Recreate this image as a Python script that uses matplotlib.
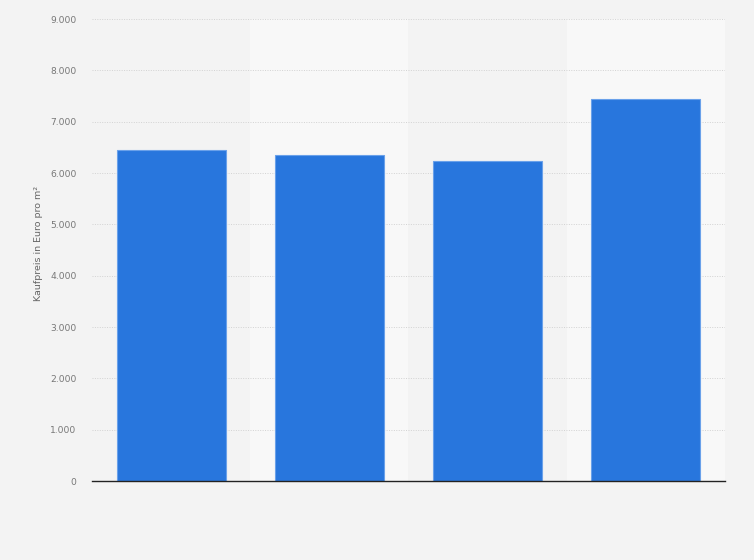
import matplotlib
matplotlib.use("Agg")
import matplotlib.pyplot as plt

# Data (x labels are not shown in the reference)
categories = ["A", "B", "C", "D"]
prices = [6443, 6345, 6228, 7442]
y_ticks = [0, 1000, 2000, 3000, 4000, 5000, 6000, 7000, 8000, 9000]
y_tick_labels = ["0", "1.000", "2.000", "3.000", "4.000", "5.000",
                 "6.000", "7.000", "8.000", "9.000"]

bg = "#f3f3f3"
band_light = "#f8f8f8"
bar_color = "#2876dd"

fig = plt.figure(figsize=(7.54, 5.60), dpi=100, facecolor=bg)
ax = fig.add_axes([0.122, 0.141, 0.8395, 0.825])
ax.set_facecolor(bg)

x = list(range(len(categories)))

# alternating column bands
for i in x:
    if i % 2 == 1:
        ax.axvspan(i - 0.5, i + 0.5, color=band_light, zorder=0, lw=0)

ax.bar(x, prices, width=0.69, color=bar_color, edgecolor="#6aa1ea",
       linewidth=0.8, zorder=3)

ax.set_xlim(-0.5, len(categories) - 0.5)
ax.set_ylim(0, 9000)
ax.set_yticks(y_ticks)
ax.set_yticklabels(y_tick_labels)
ax.set_xticks([])

ax.grid(axis="y", linestyle=(0, (1, 1.5)), color="#d2d2d2", linewidth=0.7, zorder=1)
ax.tick_params(axis="y", length=0, pad=11, labelsize=6.6, labelcolor="#777777")

for side in ["top", "right", "left"]:
    ax.spines[side].set_visible(False)
ax.spines["bottom"].set_color("#222222")
ax.spines["bottom"].set_linewidth(1.0)
ax.spines["bottom"].set_zorder(4)

ax.set_ylabel("Kaufpreis in Euro pro m²", fontsize=6.8, color="#666666", labelpad=8)
ax.yaxis.set_label_coords(-0.078, 0.515)

fig.savefig("out.png", dpi=100, facecolor=bg)
